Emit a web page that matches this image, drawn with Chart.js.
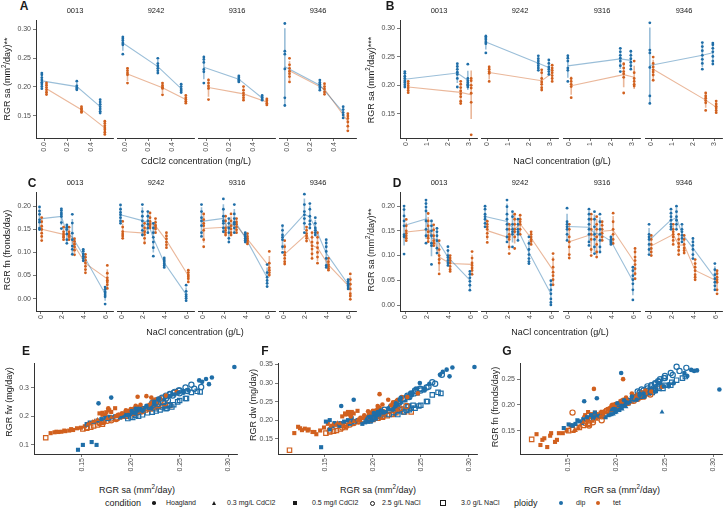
<!DOCTYPE html>
<html>
<head>
<meta charset="utf-8">
<script src="https://cdn.jsdelivr.net/npm/chart.js@4.4.1/dist/chart.umd.min.js"></script>
<style>
body { margin: 0; background: #fff; width: 727px; height: 516px; position: relative; overflow: hidden; font-family: "Liberation Sans", Arial, sans-serif; -webkit-font-smoothing: antialiased; }
canvas { position: absolute; z-index: 1; }
.t { position: absolute; white-space: nowrap; color: #1a1a1a; z-index: 2; text-align: center; }
.t sup { font-size: 70%; line-height: 0; }
.sym { position: absolute; box-sizing: border-box; z-index: 2; }
</style>
</head>
<body>
<script>
// ---- data -------------------------------------------------------------
const genotypes = ['0013', '9242', '9316', '9346'];
const cdConc = [0, 0.3, 0.5];
const naConc = [0, 2.5, 3];
const saltConc = [0, 2, 2.5, 3, 4, 6];

// experiment 1: RGR sa per plant, one list per genotype (panels A, B and x of E-G)
const saHoagDip = [[0.224,0.221,0.216,0.212,0.208,0.205,0.201,0.197],[0.283,0.280,0.277,0.273,0.270,0.254],[0.249,0.245,0.240,0.228,0.224,0.205],[0.306,0.259,0.254,0.229,0.180,0.167]];
const saHoagTet = [[0.207,0.203,0.199,0.195,0.191,0.187],[0.230,0.226,0.222,0.219,0.205],[0.210,0.205,0.200,0.196,0.177],[0.247,0.236,0.230,0.225,0.221,0.216,0.207]];
const saCd03Dip = [[0.210,0.202,0.199,0.197,0.195],[0.247,0.238,0.234,0.230,0.226,0.222],[0.217,0.214,0.211,0.209,0.207],[0.210,0.206,0.203,0.200,0.197,0.193]];
const saCd03Tet = [[0.166,0.163,0.161,0.158,0.156],[0.205,0.201,0.198,0.196,0.185],[0.199,0.193,0.188,0.184,0.180,0.176],[0.204,0.199,0.195,0.190,0.186]];
const saCd05Dip = [[0.178,0.174,0.170,0.166,0.162,0.158,0.155],[0.203,0.199,0.195,0.192,0.189],[0.184,0.181,0.178,0.176],[0.165,0.160,0.155,0.151,0.146]];
const saCd05Tet = [[0.141,0.137,0.133,0.129,0.126,0.122,0.118],[0.184,0.180,0.177,0.174,0.171],[0.178,0.175,0.171,0.168],[0.153,0.149,0.145,0.139,0.132,0.124]];
const saNa25Dip = [[0.238,0.233,0.228,0.223,0.219,0.212,0.197],[0.249,0.244,0.240,0.236,0.232,0.228,0.224],[0.262,0.256,0.250,0.245,0.240,0.232,0.222],[0.272,0.265,0.258,0.250,0.243,0.236,0.226]];
const saNa25Tet = [[0.207,0.202,0.196,0.190,0.185,0.180,0.172,0.168],[0.225,0.220,0.210,0.204,0.200,0.194,0.190],[0.235,0.228,0.222,0.218,0.212,0.185],[0.185,0.180,0.176,0.172,0.168,0.155]];
const saNa30Dip = [[0.237,0.212,0.208,0.205,0.202,0.200,0.197],[0.242,0.236,0.230,0.226,0.222,0.217],[0.257,0.250,0.244,0.238,0.232,0.226],[0.271,0.268,0.262,0.256,0.248,0.240,0.235]];
const saNa30Tet = [[0.212,0.208,0.200,0.195,0.186,0.170,0.113],[0.233,0.228,0.224,0.220,0.215,0.210,0.205],[0.240,0.220,0.210,0.205,0.200,0.197],[0.171,0.166,0.162,0.159,0.155,0.151]];

// RGR fw (panel E) for the same plants
const fwHoagDip = [[0.244,0.228,0.236,0.219,0.226,0.212,0.218,0.204],[0.335,0.312,0.330,0.320,0.325,0.288],[0.282,0.276,0.270,0.258,0.250,0.226],[0.372,0.290,0.282,0.262,0.265,0.245]];
const fwHoagTet = [[0.232,0.226,0.219,0.221,0.210,0.205],[0.262,0.250,0.248,0.240,0.232],[0.240,0.236,0.225,0.218,0.228],[0.285,0.272,0.262,0.258,0.265,0.270,0.268]];
const fwCd03Dip = [[0.226,0.214,0.208,0.212,0.205],[0.285,0.270,0.262,0.258,0.252,0.245],[0.232,0.228,0.225,0.222,0.218],[0.222,0.220,0.215,0.214,0.208,0.206]];
const fwCd03Tet = [[0.188,0.183,0.180,0.175,0.172],[0.226,0.220,0.215,0.212,0.200],[0.218,0.210,0.206,0.200,0.196,0.192],[0.225,0.218,0.214,0.206,0.200]];
const fwCd05Dip = [[0.198,0.194,0.190,0.185,0.180,0.178,0.172],[0.212,0.208,0.204,0.200,0.196],[0.200,0.196,0.192,0.190],[0.100,0.110,0.172,0.100,0.083]];
const fwCd05Tet = [[0.152,0.150,0.148,0.146,0.145,0.144,0.141],[0.228,0.215,0.222,0.205,0.212],[0.220,0.214,0.205,0.210],[0.165,0.160,0.158,0.155,0.150,0.146]];
const fwNa25Dip = [[0.255,0.250,0.244,0.240,0.232,0.225,0.212],[0.290,0.282,0.278,0.272,0.265,0.258,0.252],[0.310,0.300,0.290,0.285,0.276,0.262,0.246],[0.302,0.296,0.288,0.280,0.272,0.262,0.250]];
const fwNa25Tet = [[0.218,0.212,0.208,0.200,0.195,0.192,0.184,0.180],[0.240,0.236,0.224,0.216,0.212,0.205,0.200],[0.245,0.238,0.232,0.228,0.220,0.195],[0.190,0.186,0.184,0.180,0.176,0.162]];
const fwNa30Dip = [[0.228,0.205,0.200,0.204,0.196,0.198,0.192],[0.232,0.226,0.222,0.218,0.214,0.212],[0.262,0.255,0.240,0.238,0.232,0.226],[0.285,0.287,0.283,0.262,0.250,0.240,0.236]];
const fwNa30Tet = [[0.218,0.214,0.205,0.200,0.194,0.180,0.125],[0.238,0.234,0.230,0.226,0.222,0.216,0.210],[0.238,0.226,0.220,0.215,0.210,0.206],[0.172,0.170,0.166,0.162,0.158,0.156]];

// RGR dw (panel F)
const dwHoagDip = [[0.240,0.228,0.232,0.221,0.226,0.214,0.219,0.209],[0.342,0.318,0.336,0.330,0.322,0.285],[0.300,0.285,0.272,0.255,0.245,0.222],[0.343,0.298,0.280,0.260,0.255,0.238]];
const dwHoagTet = [[0.234,0.226,0.221,0.224,0.213,0.206],[0.262,0.255,0.246,0.240,0.230],[0.242,0.238,0.225,0.218,0.210],[0.272,0.262,0.258,0.252,0.248,0.255,0.270]];
const dwCd03Dip = [[0.226,0.212,0.215,0.208,0.210],[0.270,0.260,0.252,0.248,0.240,0.236],[0.228,0.222,0.220,0.218,0.214],[0.220,0.218,0.214,0.210,0.206,0.202]];
const dwCd03Tet = [[0.190,0.192,0.186,0.188,0.184],[0.222,0.218,0.212,0.210,0.200],[0.215,0.208,0.204,0.200,0.196,0.193],[0.222,0.216,0.210,0.204,0.198]];
const dwCd05Dip = [[0.205,0.200,0.196,0.192,0.188,0.184,0.175],[0.205,0.200,0.196,0.194,0.190],[0.200,0.196,0.194,0.190],[0.185,0.192,0.200,0.196,0.127]];
const dwCd05Tet = [[0.162,0.168,0.175,0.177,0.173,0.182,0.165],[0.225,0.218,0.212,0.222,0.215],[0.222,0.216,0.218,0.210],[0.190,0.180,0.172,0.168,0.172,0.178]];
const dwNa25Dip = [[0.262,0.256,0.248,0.240,0.236,0.228,0.212],[0.285,0.280,0.272,0.266,0.258,0.252,0.246],[0.302,0.288,0.284,0.278,0.270,0.258,0.240],[0.322,0.298,0.290,0.280,0.272,0.262,0.250]];
const dwNa25Tet = [[0.212,0.208,0.206,0.202,0.198,0.195,0.190,0.186],[0.235,0.232,0.222,0.214,0.212,0.205,0.200],[0.238,0.232,0.228,0.225,0.220,0.198],[0.196,0.192,0.188,0.184,0.180,0.172]];
const dwNa30Dip = [[0.238,0.218,0.214,0.210,0.206,0.203,0.198],[0.240,0.236,0.230,0.225,0.220,0.215],[0.250,0.240,0.232,0.228,0.222,0.215],[0.272,0.275,0.268,0.250,0.238,0.232,0.226]];
const dwNa30Tet = [[0.215,0.212,0.208,0.205,0.198,0.186,0.119],[0.222,0.228,0.220,0.216,0.212,0.208,0.205],[0.222,0.215,0.210,0.205,0.202,0.200],[0.180,0.176,0.172,0.170,0.168,0.165]];

// RGR fn (panel G)
const fnHoagDip = [[0.222,0.210,0.216,0.204,0.209,0.198,0.203,0.192],[0.267,0.266,0.268,0.256,0.262,0.240],[0.236,0.242,0.226,0.222,0.218,0.262],[0.230,0.242,0.236,0.216,0.213,0.207]];
const fnHoagTet = [[0.210,0.203,0.200,0.198,0.192,0.186],[0.228,0.224,0.220,0.214,0.206],[0.214,0.208,0.202,0.200,0.231],[0.235,0.226,0.222,0.218,0.214,0.222,0.250]];
const fnCd03Dip = [[0.205,0.198,0.194,0.197,0.190],[0.186,0.226,0.222,0.220,0.214,0.212],[0.210,0.206,0.204,0.200,0.198],[0.196,0.192,0.190,0.186,0.182,0.180]];
const fnCd03Tet = [[0.166,0.160,0.156,0.150,0.148],[0.204,0.198,0.196,0.192,0.185],[0.196,0.190,0.186,0.178,0.172,0.168],[0.200,0.196,0.190,0.186,0.180]];
const fnCd05Dip = [[0.185,0.180,0.176,0.172,0.168,0.163,0.160],[0.190,0.186,0.182,0.180,0.176],[0.180,0.178,0.176,0.174],[0.165,0.170,0.160,0.162,0.155]];
const fnCd05Tet = [[0.145,0.128,0.145,0.118,0.135,0.122,0.143],[0.185,0.182,0.178,0.176,0.174],[0.185,0.182,0.186,0.180],[0.160,0.150,0.145,0.132,0.140,0.132]];
const fnNa25Dip = [[0.232,0.228,0.222,0.218,0.214,0.208,0.196],[0.252,0.245,0.240,0.236,0.232,0.228,0.224],[0.274,0.262,0.256,0.250,0.242,0.236,0.226],[0.272,0.266,0.258,0.252,0.246,0.238,0.230]];
const fnNa25Tet = [[0.202,0.198,0.192,0.188,0.180,0.178,0.165,0.175],[0.218,0.214,0.206,0.202,0.198,0.192,0.188],[0.220,0.216,0.212,0.208,0.204,0.178],[0.170,0.178,0.166,0.160,0.165,0.185]];
const fnNa30Dip = [[0.224,0.204,0.200,0.198,0.196,0.194,0.192],[0.235,0.228,0.222,0.218,0.215,0.210],[0.244,0.238,0.232,0.228,0.224,0.220],[0.255,0.252,0.248,0.238,0.232,0.228,0.226]];
const fnNa30Tet = [[0.208,0.205,0.196,0.192,0.185,0.172,0.133],[0.222,0.218,0.215,0.212,0.208,0.204,0.200],[0.230,0.216,0.208,0.205,0.200,0.198],[0.162,0.160,0.156,0.156,0.152,0.150]];

// experiment 2 (NaCl series): per genotype, one list per concentration in saltConc
const cFnDip = [
  [[0.199,0.190,0.183,0.171,0.166,0.153,0.150],[0.195,0.191,0.186,0.182,0.178,0.165,0.152],[0.160,0.155,0.150,0.140,0.128,0.120],[0.183,0.164,0.142,0.128,0.114,0.107,0.096],[0.107,0.103,0.097,0.092,0.087,0.082],[0.025,0.020,0.015,0.012,0.008,0.004,-0.012]],
  [[0.199,0.190,0.183,0.178,0.172,0.165,0.160],[0.200,0.185,0.175,0.165,0.155,0.145,0.135],[0.185,0.175,0.165,0.158,0.150,0.140],[0.160,0.150,0.140,0.130,0.120,0.108,0.090],[0.086,0.082,0.078,0.074,0.070,0.066],[0.028,0.015,0.008,0.004,0.000,-0.005]],
  [[0.200,0.185,0.172,0.165,0.155,0.140,0.132],[0.212,0.190,0.175,0.165,0.160,0.150,0.142],[0.170,0.160,0.150,0.140,0.128,0.120],[0.200,0.180,0.170,0.162,0.158,0.150,0.140],[0.140,0.136,0.132,0.128,0.124,0.120],[0.072,0.055,0.045,0.038,0.032,0.025]],
  [[0.155,0.145,0.135,0.130,0.125,0.110,0.098],[0.222,0.200,0.185,0.178,0.170,0.160,0.140],[0.202,0.190,0.175,0.165,0.158,0.150],[0.172,0.160,0.150,0.145,0.140,0.135],[0.125,0.118,0.110,0.100,0.085,0.070,0.066],[0.040,0.036,0.032,0.028,0.024,0.020]]
];
const cFnTet = [
  [[0.176,0.167,0.157,0.150,0.142,0.135,0.126],[0.155,0.145,0.140,0.136,0.133,0.128],[0.155,0.145,0.140,0.137,0.134,0.128],[0.130,0.124,0.118,0.112,0.105,0.095],[0.096,0.090,0.083,0.077,0.070,0.063,0.056],[0.072,0.055,0.045,0.040,0.036,0.030,0.022]],
  [[0.164,0.152,0.142,0.137,0.133,0.128],[0.160,0.150,0.142,0.136,0.128,0.118],[0.182,0.172,0.164,0.158,0.154,0.150],[0.170,0.162,0.156,0.152,0.148,0.140],[0.140,0.133,0.127,0.120,0.114,0.108],[0.060,0.055,0.050,0.046,0.042,0.035]],
  [[0.180,0.168,0.160,0.155,0.145,0.125,0.110],[0.175,0.165,0.150,0.145,0.140,0.135],[0.180,0.165,0.155,0.148,0.140,0.135],[0.170,0.163,0.158,0.152,0.146,0.140],[0.138,0.132,0.128,0.124,0.120,0.116],[0.100,0.075,0.065,0.060,0.055,0.050]],
  [[0.123,0.110,0.098,0.092,0.085,0.078,0.073],[0.152,0.145,0.138,0.133,0.128,0.122],[0.140,0.130,0.120,0.112,0.105,0.095,0.085],[0.140,0.130,0.118,0.108,0.098,0.088,0.075],[0.085,0.078,0.072,0.068,0.064,0.060],[0.052,0.040,0.030,0.020,0.010,0.005,-0.002]]
];
const dSaDip = [
  [[0.200,0.193,0.180,0.170,0.160,0.142,0.138,0.103],[0.212,0.205,0.198,0.190,0.170,0.153,0.140,0.125],[0.170,0.160,0.150,0.140,0.125,0.120,0.082],[0.155,0.148,0.140,0.130,0.115,0.105],[0.118,0.110,0.100,0.096,0.090,0.085,0.080],[0.068,0.062,0.055,0.048,0.040,0.030]],
  [[0.196,0.190,0.180,0.175,0.170,0.162,0.155],[0.208,0.195,0.180,0.170,0.160,0.150,0.135,0.125],[0.185,0.175,0.160,0.150,0.145,0.140,0.115],[0.170,0.160,0.150,0.145,0.140,0.128],[0.135,0.122,0.110,0.100,0.092,0.086,0.082],[0.048,0.040,0.030,0.022,0.012,0.005,0.000]],
  [[0.192,0.165,0.160,0.155,0.150,0.140,0.128],[0.190,0.180,0.170,0.160,0.150,0.140,0.125,0.118],[0.185,0.170,0.155,0.140,0.130,0.115,0.102],[0.180,0.165,0.150,0.140,0.128,0.115,0.105],[0.135,0.130,0.126,0.123,0.120],[0.075,0.068,0.058,0.050,0.042,0.030,0.010]],
  [[0.160,0.140,0.135,0.130,0.120,0.110,0.100],[0.190,0.182,0.175,0.168,0.160,0.155,0.150],[0.196,0.185,0.175,0.168,0.160,0.150],[0.160,0.150,0.145,0.138,0.132,0.125],[0.132,0.125,0.118,0.110,0.100,0.092],[0.082,0.070,0.060,0.052,0.045,0.038,0.030]]
];
const dSaTet = [
  [[0.173,0.160,0.150,0.145,0.140,0.135,0.130],[0.185,0.170,0.160,0.148,0.140,0.135,0.128],[0.162,0.152,0.140,0.130,0.125,0.120],[0.130,0.112,0.100,0.092,0.085,0.063],[0.100,0.095,0.090,0.085,0.078,0.072,0.068],[0.108,0.095,0.085,0.080,0.075,0.070,0.062]],
  [[0.166,0.160,0.155,0.150,0.142,0.135,0.124],[0.160,0.150,0.140,0.135,0.130,0.115,0.102],[0.180,0.170,0.160,0.150,0.145,0.135,0.112],[0.178,0.170,0.165,0.160,0.150,0.140],[0.145,0.140,0.135,0.130,0.126,0.120],[0.102,0.090,0.075,0.065,0.058,0.050,0.040]],
  [[0.160,0.150,0.135,0.125,0.115,0.100,0.093],[0.180,0.170,0.150,0.140,0.130,0.110,0.098],[0.175,0.160,0.150,0.135,0.120,0.105,0.095],[0.165,0.158,0.150,0.142,0.135,0.128],[0.182,0.165,0.150,0.140,0.130,0.122],[0.112,0.105,0.095,0.088,0.080,0.072,0.062,0.052]],
  [[0.138,0.130,0.120,0.112,0.105,0.098],[0.160,0.150,0.145,0.140,0.135,0.128,0.120],[0.140,0.130,0.122,0.115,0.108,0.100],[0.138,0.130,0.120,0.113,0.108,0.103],[0.090,0.082,0.075,0.068,0.060,0.055,0.050],[0.068,0.062,0.055,0.050,0.045,0.030,0.022]]
];

// tick values
const cdTicks = [0, 0.2, 0.4];
const naTicks = [0, 1, 2, 3];
const saltTicks = [0, 2, 4, 6];
const saTicksAB = [0.15, 0.20, 0.25, 0.30];
const yTicksCD = [0, 0.05, 0.10, 0.15, 0.20];
const saTicksEFG = [0.15, 0.20, 0.25, 0.30];
const fwTicks = [0.1, 0.2, 0.3];
const dwTicks = [0.15, 0.20, 0.25, 0.30, 0.35];
const fnTicks = [0.15, 0.20, 0.25];

const conditionLabels = ['Hoagland', '0.3 mg/L CdCl2', '0.5 mg/l CdCl2', '2.5 g/L NaCl', '3.0 g/L NaCl'];
const ploidyLabels = ['dip', 'tet'];

// ---- helpers ----------------------------------------------------------
const DIP = '#1f6ea8', TET = '#d1601e';
const DIP_L = 'rgba(31,110,168,0.45)', TET_L = 'rgba(209,96,30,0.45)';
const PAD = 4, YW = 30, XH = 22;
const TICK_COL = '#4d4d4d', AXIS_COL = '#333';

function mean(a) { return a.reduce((s, v) => s + v, 0) / a.length; }
function sd(a) { const m = mean(a); return Math.sqrt(a.reduce((s, v) => s + (v - m) * (v - m), 0) / (a.length - 1)); }

function makeCanvas(left, top, w, h) {
  const c = document.createElement('canvas');
  c.width = w; c.height = h;
  c.style.left = left + 'px'; c.style.top = top + 'px';
  document.body.appendChild(c);
  return c.getContext('2d');
}

function axis(kind, show, min, max, ticks, dec) {
  const a = {
    type: 'linear', display: show, min: min, max: max,
    afterBuildTicks: s => { s.ticks = ticks.map(v => ({ value: v })); },
    ticks: { color: TICK_COL, font: { size: 7 }, padding: 2, autoSkip: false, callback: v => Number(v).toFixed(dec) },
    grid: { drawOnChartArea: false, tickLength: 3, color: '#555', lineWidth: 0.8 },
    border: { color: AXIS_COL, width: 1 }
  };
  if (kind === 'x') {
    a.afterFit = s => { s.height = XH; };
    a.ticks.minRotation = 90; a.ticks.maxRotation = 90; a.ticks.padding = 1;
  } else if (show) {
    a.afterFit = s => { s.width = YW; };
  }
  return a;
}

function baseOptions(xAxis, yAxis) {
  return {
    responsive: false, animation: false,
    layout: { padding: { left: PAD, right: PAD, top: PAD, bottom: 0 } },
    plugins: { legend: { display: false }, tooltip: { enabled: false } },
    scales: { x: xAxis, y: yAxis }
  };
}

// one facet of a dot + mean line + error bar plot
function dotFacet(px, py, pw, ph, showY, xr, yr, conc, xTicks, xDec, yTicks, dipGroups, tetGroups, dodge) {
  const lw = showY ? YW : 0;
  const ctx = makeCanvas(px - lw - PAD, py - PAD, pw + lw + 2 * PAD, ph + PAD + XH);
  const datasets = [];
  [[dipGroups, -dodge, DIP, DIP_L], [tetGroups, dodge, TET, TET_L]].forEach(([groups, off, col, light]) => {
    const pts = [], bars = [], means = [];
    groups.forEach((vals, k) => {
      const x = conc[k] + off, m = mean(vals), e = 1.25 * sd(vals);
      vals.forEach(v => pts.push({ x: x, y: v }));
      bars.push({ x: x, y: m - e }, { x: x, y: m + e }, { x: x, y: null });
      means.push({ x: x, y: m });
    });
    datasets.push({ type: 'line', data: bars, borderColor: light, borderWidth: 1.6, pointRadius: 0, spanGaps: false, clip: false, order: 3 });
    datasets.push({ type: 'line', data: means, borderColor: light, borderWidth: 1.1, pointRadius: 0, clip: false, order: 2 });
    datasets.push({ type: 'scatter', data: pts, pointRadius: 1.4, pointBackgroundColor: col, pointBorderWidth: 0, clip: false, order: 1 });
  });
  new Chart(ctx, {
    type: 'scatter',
    data: { datasets: datasets },
    options: baseOptions(axis('x', true, xr[0], xr[1], xTicks, xDec), axis('y', showY, yr[0], yr[1], yTicks, 2))
  });
}

function dotPanel(lefts, top, h, xr, yr, conc, xTicks, xDec, yTicks, dipByGen, tetByGen, dodge) {
  genotypes.forEach((g, i) => {
    dotFacet(lefts[i], top, 77, h, i === 0, xr, yr, conc, xTicks, xDec, yTicks, dipByGen[i], tetByGen[i], dodge);
  });
}

const condSa = [[saHoagDip, saHoagTet], [saCd03Dip, saCd03Tet], [saCd05Dip, saCd05Tet], [saNa25Dip, saNa25Tet], [saNa30Dip, saNa30Tet]];
const condFw = [[fwHoagDip, fwHoagTet], [fwCd03Dip, fwCd03Tet], [fwCd05Dip, fwCd05Tet], [fwNa25Dip, fwNa25Tet], [fwNa30Dip, fwNa30Tet]];
const condDw = [[dwHoagDip, dwHoagTet], [dwCd03Dip, dwCd03Tet], [dwCd05Dip, dwCd05Tet], [dwNa25Dip, dwNa25Tet], [dwNa30Dip, dwNa30Tet]];
const condFn = [[fnHoagDip, fnHoagTet], [fnCd03Dip, fnCd03Tet], [fnCd05Dip, fnCd05Tet], [fnNa25Dip, fnNa25Tet], [fnNa30Dip, fnNa30Tet]];
const condStyle = [
  { shape: 'circle', r: 2.3, open: false },
  { shape: 'triangle', r: 2.8, open: false },
  { shape: 'rect', r: 2.9, open: false },
  { shape: 'circle', r: 2.6, open: true },
  { shape: 'rect', r: 3.1, open: true }
];

function scatterPanel(px, py, pw, ph, yArrays, yr, yTicks, yDec) {
  const ctx = makeCanvas(px - YW - PAD, py - PAD, pw + YW + 2 * PAD, ph + PAD + XH);
  const datasets = [];
  condSa.forEach((pair, c) => {
    pair.forEach((saList, p) => {
      const col = p ? TET : DIP;
      const st = condStyle[c];
      const pts = [];
      saList.forEach((vals, g) => vals.forEach((v, i) => pts.push({ x: v, y: yArrays[c][p][g][i] })));
      datasets.push({
        data: pts, pointStyle: st.shape, pointRadius: st.r,
        pointBackgroundColor: st.open ? 'rgba(0,0,0,0)' : col,
        pointBorderColor: col, pointBorderWidth: st.open ? 1.2 : 0, clip: false
      });
    });
  });
  new Chart(ctx, {
    type: 'scatter',
    data: { datasets: datasets },
    options: baseOptions(axis('x', true, 0.101, 0.3095, saTicksEFG, 2), axis('y', true, yr[0], yr[1], yTicks, yDec))
  });
}

// text placed on whole pixels so that rotated labels stay crisp
function txt(html, x, y, size, o) {
  o = o || {};
  const d = document.createElement('div');
  d.className = 't';
  d.innerHTML = html;
  d.style.fontSize = size + 'px';
  if (o.bold) d.style.fontWeight = 'bold';
  d.style.color = o.color || '#1a1a1a';
  document.body.appendChild(d);
  const w = Math.ceil(d.offsetWidth / 2) * 2 + 2;
  const h = Math.ceil(size * 1.2 / 2) * 2;
  d.style.width = w + 'px'; d.style.height = h + 'px'; d.style.lineHeight = h + 'px';
  if (o.left) {
    d.style.textAlign = 'left';
    d.style.left = Math.round(x) + 'px';
  } else {
    d.style.left = Math.round(x - w / 2) + 'px';
  }
  d.style.top = Math.round(y - h / 2) + 'px';
  if (o.rot) d.style.transform = 'rotate(-90deg)';
}

function sym(x, y, w, h, css) {
  const d = document.createElement('div');
  d.className = 'sym';
  d.style.left = (x - w / 2) + 'px'; d.style.top = (y - h / 2) + 'px';
  d.style.width = w + 'px'; d.style.height = h + 'px';
  d.style.cssText += css;
  document.body.appendChild(d);
}

// ---- panels -----------------------------------------------------------
const leftsAC = [36, 117, 198, 279];
const leftsBD = [400, 481, 563, 645];

const byConc = (lists) => genotypes.map((g, i) => lists.map(l => l[i]));

dotPanel(leftsAC, 18, 120, [-0.07, 0.59], [0.1119, 0.3153], cdConc, cdTicks, 1, saTicksAB,
  byConc([saHoagDip, saCd03Dip, saCd05Dip]), byConc([saHoagTet, saCd03Tet, saCd05Tet]), 0.02);
dotPanel(leftsBD, 18, 120, [-0.31, 3.357], [0.1074, 0.3143], naConc, naTicks, 0, saTicksAB,
  byConc([saHoagDip, saNa25Dip, saNa30Dip]), byConc([saHoagTet, saNa25Tet, saNa30Tet]), 0.08);
dotPanel(leftsAC, 190, 121, [-0.42, 6.62], [-0.027, 0.231], saltConc, saltTicks, 0, yTicksCD, cFnDip, cFnTet, 0.1);
dotPanel(leftsBD, 190, 121, [-0.47, 6.55], [-0.012, 0.228], saltConc, saltTicks, 0, yTicksCD, dSaDip, dSaTet, 0.1);

scatterPanel(34, 361, 205, 93, condFw, [0.0683, 0.385], fwTicks, 1);
scatterPanel(278, 361, 201, 93, condDw, [0.1087, 0.3534], dwTicks, 2);
scatterPanel(520, 361, 204, 93, condFn, [0.1045, 0.281], fnTicks, 2);

// ---- text -------------------------------------------------------------
[['A', 23.5, 6], ['B', 390, 6], ['C', 31.5, 183], ['D', 397, 183], ['E', 25.5, 351], ['F', 264.5, 351], ['G', 507, 351]]
  .forEach(([l, x, y]) => txt(l, x, y, 12, { bold: true }));

genotypes.forEach((g, i) => {
  txt(g, leftsAC[i] + 38.5, 10.5, 7.5);
  txt(g, leftsBD[i] + 38.5, 10.5, 7.5);
  txt(g, leftsAC[i] + 38.5, 182.5, 7.5);
  txt(g, leftsBD[i] + 38.5, 182.5, 7.5);
});

const saTitle = 'RGR sa (mm<sup>2</sup>/day)';
txt('CdCl2 concentration (mg/L)', 196, 161, 9);
txt('NaCl concentration (g/L)', 562, 161, 9);
txt('NaCl concentration (g/L)', 195, 331.5, 9);
txt('NaCl concentration (g/L)', 560, 331.5, 9);
txt(saTitle, 137, 490, 9);
txt(saTitle, 378, 490, 9);
txt(saTitle, 622, 490, 9);

txt(saTitle + '**', 7, 79, 9, { rot: true });
txt(saTitle + '***', 371, 80, 9, { rot: true });
txt('RGR fn (fronds/day)', 7, 250, 9, { rot: true });
txt(saTitle + '**', 371, 250, 9, { rot: true });
txt('RGR fw (mg/day)', 9, 402, 9, { rot: true });
txt('RGR dw (mg/day)', 253, 405, 9, { rot: true });
txt('RGR fn (fronds/day)', 495, 407, 9, { rot: true });

// ---- legend -----------------------------------------------------------
const LY = 503;
txt('condition', 105, LY, 9, { left: true });
const condSymX = [154, 215, 295, 372, 443];
const condTextX = [166, 227, 312, 382, 461];
const condSymCss = [
  'border-radius:50%;background:#1a1a1a;',
  'width:0;height:0;border-left:2.6px solid transparent;border-right:2.6px solid transparent;border-bottom:4.6px solid #1a1a1a;',
  'background:#1a1a1a;',
  'border-radius:50%;border:1.2px solid #1a1a1a;',
  'border:1.2px solid #1a1a1a;'
];
const condSymSize = [[3.6, 3.6], [5.2, 4.6], [4.2, 4.2], [5, 5], [5.2, 5.2]];
conditionLabels.forEach((l, i) => {
  sym(condSymX[i], LY, condSymSize[i][0], condSymSize[i][1], condSymCss[i]);
  txt(l, condTextX[i], LY, 7, { left: true });
});
txt('ploidy', 514, LY, 9, { left: true });
[[561, 576, DIP], [598, 613, TET]].forEach(([sx, tx, col], i) => {
  sym(sx, LY, 4.6, 4.6, 'border-radius:50%;background:' + col + ';');
  txt(ploidyLabels[i], tx, LY, 7, { left: true });
});
</script>
</body>
</html>
